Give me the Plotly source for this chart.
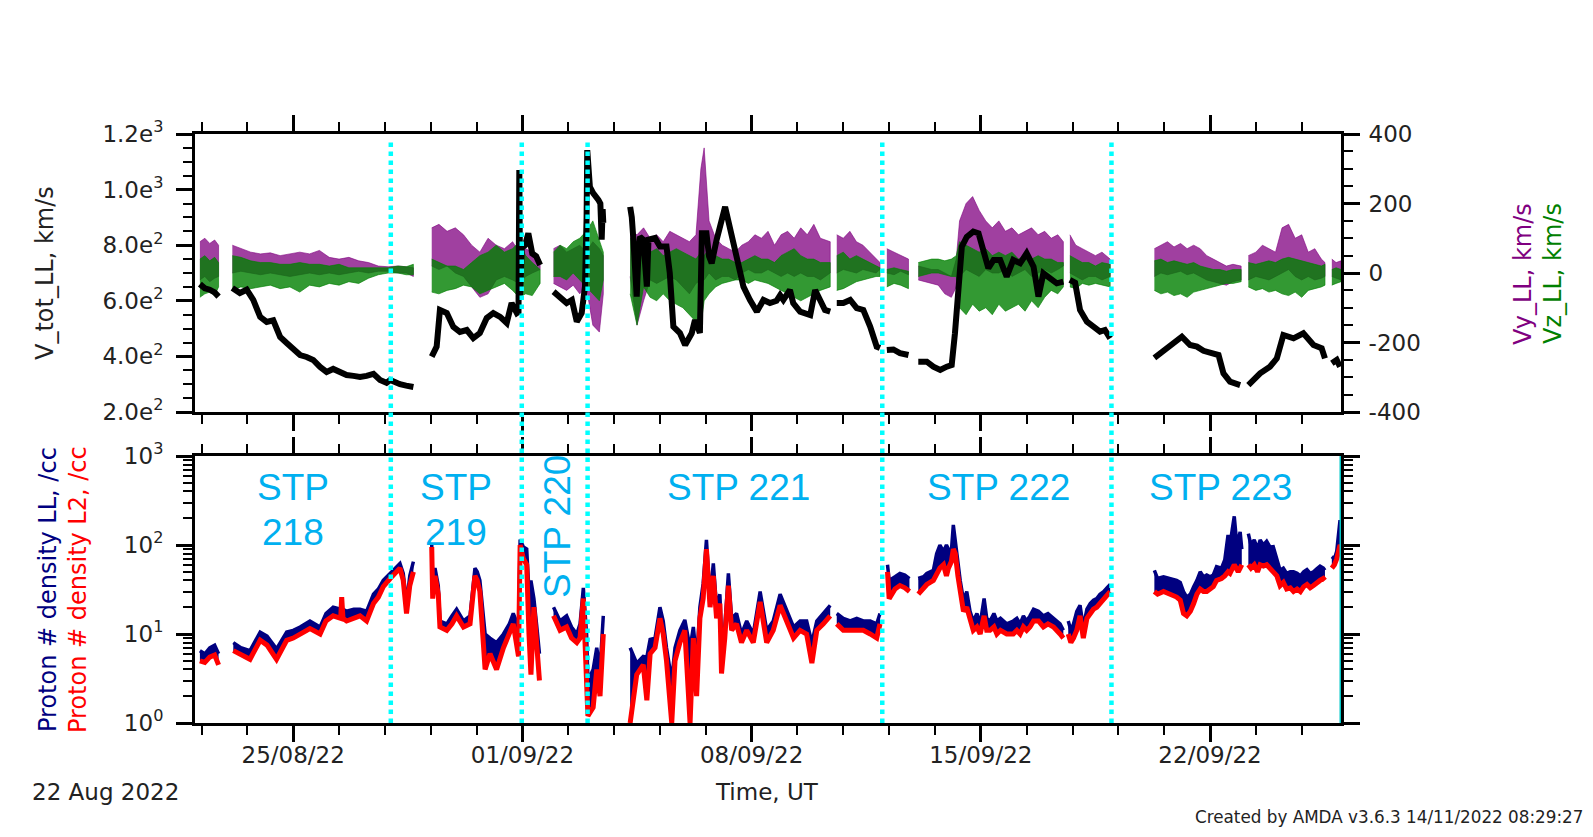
import pandas as pd
import plotly.graph_objects as go

START = pd.Timestamp("2022-08-22")
END = pd.Timestamp("2022-09-26")

# ---------------- data (days since 22 Aug 2022; None = data gap) ----------------
vtot_days = [0.15, 0.3, 0.45, 0.6, 0.72, None,
             1.14, 1.37, 1.58, 1.78, 1.99, 2.19, 2.39, 2.6, 2.8, 3.0, 3.21, 3.41, 3.61, 3.82, 4.02,
             4.22, 4.43, 4.63, 4.84, 5.04, 5.24, 5.45, 5.65, 5.85, 5.96, 6.06, 6.26, 6.45, 6.67, None,
             7.23, 7.38, 7.48, 7.69, 7.89, 8.09, 8.3, 8.5, 8.7, 8.91, 9.11, 9.32, 9.52, 9.67, 9.83,
             9.88, 9.905, 9.93, 9.98, 10.08, 10.18, 10.3, 10.42, 10.54, None,
             10.95, 11.15, 11.35, 11.51, 11.66, 11.81, 11.91, 11.96, 11.98, 12.06, 12.16, 12.32, 12.38,
             12.42, 12.45, 12.47, None,
             13.29, 13.34, 13.39, 13.45, 13.49, 13.54, 13.59, 13.69, 13.75, 13.8, 13.85, 14.05, 14.2,
             14.4, 14.5, 14.61, 14.81, 14.97, 15.17, 15.27, 15.42, 15.46, 15.48, 15.62, 15.7, 15.78,
             15.93, 16.19, 16.34, 16.55, 16.75, 16.95, 17.16, 17.36, 17.56, 17.76, 17.87, 17.97, 18.17,
             18.27, 18.48, 18.79, 18.94, 19.09, 19.24, 19.4, None,
             19.6, 19.8, 20.01, 20.21, 20.41, 20.62, 20.82, 20.92, None,
             21.13, 21.33, 21.53, 21.79, None,
             22.09, 22.35, 22.55, 22.76, 22.96, 23.11, 23.21, 23.31, 23.42, 23.57, 23.77, 23.93, 24.08,
             24.23, 24.39, 24.59, 24.79, 24.99, 25.2, 25.4, 25.61, 25.76, 25.91, 26.11, 26.32, 26.52, None,
             26.72, 26.88, 27.03, 27.24, 27.44, 27.64, 27.79, 27.95, None,
             29.3, 29.48, 29.68, 29.88, 30.14, 30.39, 30.6, 30.8, 31.0, 31.26, 31.41, 31.61, 31.92, None,
             32.17, 32.53, 32.83, 33.04, 33.24, 33.55, 33.85, 34.16, 34.41, 34.51, None,
             34.72, 34.87, 34.97]
vtot = [660, 645, 640, 630, 615, None,
        646, 628, 640, 603, 542, 524, 530, 470, 448, 430, 405, 398, 387, 362, 344,
        355, 344, 333, 330, 326, 330, 337, 315, 305, 315, 308, 300, 295, 290, None,
        399, 435, 567, 556, 506, 488, 495, 466, 484, 538, 556, 542, 520, 592, 556,
        560, 1070, 620, 790, 800, 843, 770, 760, 729, None,
        633, 615, 592, 603, 525, 556, 651, 900, 1142, 1010, 987, 963, 950,
        820, 930, 880, None,
        938, 900, 819, 700, 615, 760, 830, 820, 700, 651, 820, 826, 795,
        795, 700, 507, 484, 441, 483, 531, 484, 700, 843, 843, 760, 735,
        819, 938, 866, 747, 651, 603, 561, 603, 592, 600, 620, 603, 639,
        592, 561, 549, 639, 603, 567, 561, None,
        592, 592, 603, 574, 567, 507, 435, 430, None,
        423, 425, 412, 405, None,
        381, 381, 363, 351, 363, 369, 483, 627, 795, 830, 849, 843, 783,
        717, 747, 747, 687, 747, 735, 771, 723, 615, 699, 681, 663, 669, None,
        675, 665, 567, 525, 507, 489, 495, 465, None,
        395, 411, 425, 447, 471, 441, 435, 420, 411, 405, 339, 309, 297, None,
        297, 339, 363, 393, 477, 465, 483, 441, 429, 393, None,
        375, 387, 363]

vel_days = [0.15, 0.3, 0.45, 0.6, 0.72, None,
            1.14, 1.4, 1.7, 2.0, 2.3, 2.6, 2.9, 3.2, 3.5, 3.8, 4.1, 4.4, 4.7, 5.0, 5.3, 5.6, 5.9, 6.2, 6.45, 6.67, None,
            7.23, 7.45, 7.7, 7.95, 8.2, 8.45, 8.7, 8.95, 9.2, 9.45, 9.7, 9.9, 10.1, 10.3, 10.54, None,
            10.95, 11.15, 11.35, 11.55, 11.75, 11.95, 12.15, 12.35, 12.47, None,
            13.29, 13.5, 13.7, 13.9, 14.1, 14.3, 14.5, 14.7, 14.9, 15.1, 15.3, 15.45, 15.55, 15.7, 15.9, 16.1,
            16.3, 16.5, 16.7, 16.9, 17.1, 17.3, 17.5, 17.7, 17.9, 18.1, 18.3, 18.5, 18.7, 18.9, 19.1, 19.4, None,
            19.6, 19.8, 20.0, 20.2, 20.4, 20.6, 20.8, 20.92, None,
            21.13, 21.35, 21.55, 21.79, None,
            22.09, 22.3, 22.5, 22.7, 22.9, 23.1, 23.25, 23.35, 23.55, 23.75, 23.95, 24.15, 24.35, 24.55, 24.75,
            24.95, 25.15, 25.35, 25.55, 25.75, 25.95, 26.15, 26.35, 26.52, None,
            26.72, 26.9, 27.1, 27.3, 27.5, 27.7, 27.95, None,
            29.3, 29.5, 29.7, 29.9, 30.1, 30.3, 30.5, 30.7, 30.9, 31.1, 31.3, 31.5, 31.7, 31.95, None,
            32.17, 32.4, 32.6, 32.8, 33.0, 33.2, 33.4, 33.6, 33.8, 34.0, 34.2, 34.4, 34.51, None,
            34.72, 34.85, 35.0]
vy_hi = [90, 100, 85, 95, 80, None,
         80, 70, 60, 55, 58, 50, 55, 60, 55, 65, 45, 40, 45, 35, 30, 20, 18, 20, 18, 15, None,
         130, 140, 120, 130, 110, 80, 60, 100, 80, 70, 90, 60, 70, 60, 40, None,
         70, 80, 60, 70, 80, 60, 90, 70, 50, None,
         120, 110, 130, 100, 110, 90, 120, 110, 100, 90, 110, 300, 360, 150, 100, 80,
         70, 60, 80, 90, 110, 100, 120, 80, 110, 120, 100, 130, 110, 140, 100, 90, None,
         110, 100, 120, 90, 80, 60, 40, 30, None,
         70, 60, 50, 40, None,
         20, 15, 10, 10, 0, -10, 40, 150, 200, 220, 180, 150, 130, 150, 120,
         130, 110, 120, 130, 110, 120, 100, 110, 90, None,
         110, 80, 70, 60, 50, 60, 40, None,
         70, 80, 90, 75, 85, 70, 80, 70, 50, 40, 30, 20, 25, 20, None,
         50, 60, 80, 70, 60, 130, 140, 100, 110, 60, 70, 40, 30, None,
         40, 30, 35]
vy_lo = [-20, -10, -25, -15, -10, None,
         0, 5, 0, -5, 0, -5, -10, -5, 0, -5, 0, -5, 0, 5, 0, 5, 5, 0, 0, -10, None,
         20, 10, 20, 0, -10, -40, -70, -60, -20, -10, -20, -30, -10, 0, 10, None,
         -30, -40, -50, -35, -60, -40, -150, -170, -60, None,
         -10, -150, -80, -20, -30, -20, -10, -20, -40, -60, -30, -20, -20, 0, -20, -10,
         -10, -20, 0, 10, 0, 0, 10, 0, -10, 0, -10, 0, -10, -10, -20, 0, None,
         0, 10, 5, 0, 10, 5, 0, 10, None,
         0, -5, 5, -5, None,
         -20, -25, -30, -35, -60, -70, -40, -10, 10, 0, -10, 10, 0, 0, 10,
         -10, 0, 10, -10, 0, 10, 0, 10, 20, None,
         0, -10, -20, -10, -10, -20, -10, None,
         -10, 0, -5, 0, 5, -5, 0, -10, -20, -25, -30, -35, -25, -20, None,
         -20, -10, -15, -20, -10, 0, 10, -10, -20, -10, -20, -15, -10, None,
         -10, -15, -20]
vz_hi = [40, 50, 35, 45, 30, None,
         50, 45, 35, 30, 30, 25, 25, 30, 25, 25, 20, 25, 15, 15, 15, 15, 15, 20, 18, 25, None,
         40, 30, 20, 20, 10, 30, 50, 60, 80, 60, 70, 90, 50, 30, 10, None,
         60, 80, 70, 90, 100, 120, 150, 90, 60, None,
         100, 90, 80, 60, 70, 50, 60, 70, 60, 50, 40, 60, 50, 70, 50, 40,
         40, 30, 30, 40, 50, 40, 40, 30, 50, 60, 70, 50, 40, 40, 30, 30, None,
         50, 60, 40, 50, 40, 30, 20, 15, None,
         10, 15, 10, 5, None,
         30, 35, 40, 40, 35, 40, 50, 90, 80, 70, 60, 70, 50, 60, 50,
         60, 40, 50, 40, 50, 40, 40, 30, 30, None,
         50, 40, 30, 30, 20, 30, 25, None,
         35, 40, 30, 35, 30, 25, 30, 20, 15, 10, 10, 5, 10, 10, None,
         30, 25, 30, 35, 30, 40, 45, 40, 35, 30, 25, 20, 25, None,
         10, 15, 10]
vz_lo = [-70, -60, -55, -65, -40, None,
         -50, -40, -45, -40, -35, -45, -40, -55, -35, -40, -30, -35, -25, -30, -15, -5, 0, 0, -5, -5, None,
         -55, -60, -50, -45, -35, -40, -60, -50, -40, -30, -50, -70, -60, -65, -30, None,
         -10, -10, -20, 0, -20, -40, -60, -80, -20, None,
         -60, -150, -40, -70, -80, -60, -80, -90, -100, -120, -140, -150, -80, -60, -40, -30,
         -25, -20, -20, -30, -20, -25, -30, -40, -50, -60, -70, -80, -70, -60, -50, -40, None,
         -50, -45, -35, -25, -20, -15, -10, -10, None,
         -40, -30, -35, -45, None,
         -10, -5, 0, 0, -5, -10, -10, -100, -120, -90, -110, -100, -120, -90, -110,
         -100, -90, -110, -80, -100, -70, -50, -60, -40, None,
         -40, -45, -30, -35, -30, -35, -40, None,
         -50, -60, -55, -65, -60, -70, -55, -50, -45, -40, -35, -30, -30, -25, None,
         -40, -50, -45, -55, -50, -60, -65, -55, -70, -50, -45, -40, -35, None,
         -35, -30, -25]

dens_days = [0.15, 0.3, 0.45, 0.6, 0.72, None,
             1.17, 1.4, 1.68, 1.99, 2.2, 2.49, 2.8, 3.0, 3.21, 3.51, 3.82, 4.0, 4.22, 4.45, 4.48, 4.52,
             4.63, 4.85, 5.04, 5.24, 5.45, 5.6, 5.75, 5.96, 6.16, 6.26, 6.36, 6.46, 6.56, 6.67, None,
             7.23, 7.26, 7.33, 7.43, 7.48, 7.69, 7.85, 7.99, 8.2, 8.4, 8.55, 8.62, 8.7, 8.86, 9.01, 9.21,
             9.42, 9.6, 9.72, 9.88, 9.93, 10.03, 10.13, 10.2, 10.26, 10.35, 10.44, 10.52, None,
             10.95, 11.15, 11.35, 11.5, 11.66, 11.76, 11.86, 11.96, 12.0, 12.16, 12.27, 12.37, 12.47, None,
             13.29, 13.49, 13.69, 13.8, 13.9, 14.05, 14.2, 14.3, 14.4, 14.56, 14.66, 14.81, 14.96, 15.12,
             15.22, 15.32, 15.42, 15.52, 15.62, 15.73, 15.83, 15.93, 16.03, 16.08, 16.18, 16.29, 16.39,
             16.54, 16.69, 16.85, 17.05, 17.26, 17.46, 17.66, 17.87, 18.07, 18.28, 18.48, 18.68, 18.84,
             18.99, 19.19, 19.4, None,
             19.6, 19.8, 20.01, 20.21, 20.41, 20.62, 20.82, 20.92, None,
             21.15, 21.2, 21.38, 21.53, 21.68, 21.82, None,
             22.09, 22.25, 22.35, 22.55, 22.65, 22.75, 22.86, 22.95, 23.01, 23.1, 23.16, 23.22, 23.3,
             23.37, 23.47, 23.57, 23.67, 23.77, 23.88, 23.98, 24.1, 24.18, 24.28, 24.4, 24.49, 24.6,
             24.79, 24.99, 25.1, 25.2, 25.3, 25.4, 25.5, 25.61, 25.76, 25.91, 26.05, 26.22, 26.42, 26.52, None,
             26.67, 26.75, 26.83, 26.93, 27.03, 27.13, 27.24, 27.34, 27.44, 27.54, 27.64, 27.75, 27.85, 27.95, None,
             29.3, 29.4, 29.58, 29.78, 29.98, 30.09, 30.19, 30.29, 30.4, 30.5, 30.6, 30.7, 30.8, 30.9,
             31.0, 31.1, 31.2, 31.35, 31.45, 31.55, 31.61, 31.68, 31.74, 31.8, 31.86, 31.92, 31.97, None,
             32.17, 32.25, 32.35, 32.45, 32.53, 32.63, 32.73, 32.83, 32.93, 33.04, 33.14, 33.24, 33.34,
             33.45, 33.55, 33.66, 33.76, 33.86, 33.96, 34.06, 34.16, 34.26, 34.36, 34.46, 34.51, None,
             34.72, 34.8, 34.87, 34.92, 34.97, 35.0]
n_ll = [6.5, 6.0, 7.0, 7.5, 6.0, None,
        8.0, 7.0, 6.5, 10.5, 9.5, 6.8, 10.5, 11, 12, 14, 12, 17, 20, 19, 20, 19,
        18, 19, 19, 18, 28, 32, 40, 48, 58, 62, 48, 22, 45, 65, None,
        100, 40, 55, 35, 14, 13, 16, 19, 14, 16, 55, 50, 40, 10, 9, 8,
        10, 13, 17, 12, 115, 95, 90, 30, 40, 25, 12, 6, None,
        20, 14, 16, 12, 10, 13, 33, 10, 3, 4, 7, 4, 16, None,
        7, 4.7, 5.6, 5.5, 8.7, 9, 20, 14, 7, 3, 7, 11, 14.4, 7,
        12, 5, 20, 37, 114, 25, 62, 20, 28, 10, 12, 48, 15,
        17, 10, 14, 10, 30, 11, 14, 28, 19, 12, 14, 14, 8,
        14, 17, 21, None,
        17, 15, 14, 15, 14, 14, 13, 17, None,
        60, 40, 44, 48, 46, 42, None,
        42, 44, 48, 52, 80, 100, 85, 100, 90, 85, 168, 110, 60,
        40, 24, 30, 18, 14, 17, 13, 25, 15, 14, 17, 14, 15,
        13, 14, 15, 13, 16, 14, 16, 19, 18, 16, 17, 15, 13, 11, None,
        14, 11, 13, 18, 21, 12, 19, 22, 24, 25, 28, 30, 33, 36, None,
        52, 42, 44, 42, 40, 38, 30, 26, 28, 34, 40, 50, 44, 46,
        44, 46, 57, 55, 68, 130, 100, 150, 210, 120, 114, 140, 90, None,
        134, 100, 114, 90, 114, 100, 110, 95, 96, 70, 52, 55, 48,
        50, 50, 48, 45, 50, 53, 48, 50, 54, 58, 55, 52, None,
        74, 70, 85, 120, 190, 150]
n_l2 = [5.0, 4.8, 5.5, 5.8, 4.5, None,
        6.5, 5.8, 5.2, 8.5, 7.5, 5.2, 8.5, 9, 10, 11.5, 10, 14, 16, 15, 26, 15,
        14, 15, 16, 14, 22, 26, 34, 42, 52, 55, 40, 17, 35, 50, None,
        95, 25, 45, 28, 12, 11, 13, 16, 12, 13, 45, 40, 30, 4, 6, 4,
        7, 10, 13, 5.6, 100, 70, 60, 10, 3.5, 20, 8, 3, None,
        16, 11, 12, 9, 8, 9, 25, 3, 1.2, 1.5, 4, 2, 10, None,
        1, 3.5, 4.5, 1.8, 6, 7, 15, 10, 5, 1, 5, 8, 11, 1,
        9, 2, 15, 25, 90, 20, 45, 15, 22, 3.6, 9, 35, 11,
        13, 8, 11, 8, 23, 8, 11, 21, 14, 9, 11, 10, 4.7,
        11, 13, 16, None,
        13, 11, 11, 11, 11, 10, 9, 13, None,
        50, 25, 32, 35, 33, 30, None,
        28, 33, 36, 40, 48, 55, 60, 45, 55, 65, 90, 80, 45,
        30, 18, 20, 14, 11, 12, 10, 16, 11, 11, 12, 10, 11,
        10, 10, 11, 10, 12, 11, 12, 14, 14, 12, 13, 12, 10, 9, None,
        10, 8, 9, 11, 16, 9, 15, 17, 19, 20, 22, 25, 27, 30, None,
        30, 28, 30, 28, 26, 24, 17, 16, 18, 22, 28, 32, 30, 30,
        32, 34, 40, 42, 45, 50, 48, 55, 60, 55, 50, 55, 60, None,
        60, 55, 60, 50, 60, 58, 60, 55, 50, 45, 35, 38, 32,
        33, 30, 32, 30, 34, 36, 33, 35, 38, 40, 42, 40, None,
        55, 60, 70, 85, 100, 95]

boundary_days = [5.98, 9.98, 11.99, 20.99, 27.99]

vtot_tickvals = [200, 400, 600, 800, 1000, 1200]
vtot_ticktext = ["2.0e<sup>2</sup>", "4.0e<sup>2</sup>", "6.0e<sup>2</sup>",
                 "8.0e<sup>2</sup>", "1.0e<sup>3</sup>", "1.2e<sup>3</sup>"]
vyz_tickvals = [-400, -200, 0, 200, 400]
vyz_ticktext = ["-400", "-200", "0", "200", "400"]
dens_tickvals = [1, 10, 100, 1000]
dens_ticktext = ["10<sup>0</sup>", "10<sup>1</sup>", "10<sup>2</sup>", "10<sup>3</sup>"]

stp_labels = ["STP<br>218", "STP<br>219", "STP 220", "STP 221", "STP 222", "STP 223"]


# ---------------- helpers ----------------
def to_dates(days):
    return [START + pd.Timedelta(days=d) if d is not None else None for d in days]


def split_segments(days, *cols):
    segs, cur = [], []
    for i, d in enumerate(days):
        if d is None:
            if cur:
                segs.append(cur)
            cur = []
        else:
            cur.append((d,) + tuple(c[i] for c in cols))
    if cur:
        segs.append(cur)
    return segs


def band_traces(days, hi, lo, color, xaxis, yaxis, lw=0.8):
    out = []
    for seg in split_segments(days, hi, lo):
        d = [s[0] for s in seg]
        h = [s[1] for s in seg]
        l = [s[2] for s in seg]
        xs = to_dates(d) + to_dates(d[::-1])
        ys = h + l[::-1]
        out.append(go.Scatter(x=xs, y=ys, mode="lines", fill="toself", fillcolor=color,
                              line=dict(width=lw, color=color), xaxis=xaxis, yaxis=yaxis,
                              hoverinfo="skip", showlegend=False))
    return out


FONT = "DejaVu Sans"
TXT = "#222222"
PURPLE = "rgb(128,0,128)"
GREEN = "rgb(0,128,0)"
NAVY = "rgb(0,0,128)"
RED = "rgb(255,0,0)"
CYAN_LBL = "rgb(0,176,240)"

fig = go.Figure()

# top panel: Vy / Vz bands on y2 (right axis), V_tot on overlaying y3 (left axis)
for tr in band_traces(vel_days, vy_hi, vy_lo, "rgba(128,0,128,0.75)", "x2", "y2"):
    fig.add_trace(tr)
for tr in band_traces(vel_days, vz_hi, vz_lo, "rgba(0,128,0,0.8)", "x2", "y2"):
    fig.add_trace(tr)
fig.add_trace(go.Scatter(x=to_dates(vtot_days), y=vtot, mode="lines",
                         line=dict(color="black", width=6), xaxis="x2", yaxis="y3",
                         connectgaps=False, showlegend=False, hoverinfo="skip"))

# bottom panel: densities (navy band between LL and L2, red L2 line on top)
for tr in band_traces(dens_days, n_ll, n_l2, NAVY, "x", "y", lw=0):
    fig.add_trace(tr)
fig.add_trace(go.Scatter(x=to_dates(dens_days), y=n_ll, mode="lines",
                         line=dict(color=NAVY, width=3.5), xaxis="x", yaxis="y",
                         connectgaps=False, showlegend=False, hoverinfo="skip"))
fig.add_trace(go.Scatter(x=to_dates(dens_days), y=n_l2, mode="lines",
                         line=dict(color=RED, width=5), xaxis="x", yaxis="y",
                         connectgaps=False, showlegend=False, hoverinfo="skip"))

DAY_MS = 86400000
tickfont = dict(family=FONT, size=23, color=TXT)
xcommon = dict(type="date", range=[START, END], tickformat="%d/%m/%y",
               tick0="2022-08-25", dtick=7 * DAY_MS, ticks="outside", ticklen=16,
               tickwidth=2.5, tickcolor="black", showline=True, linewidth=3,
               linecolor="black", mirror="ticks", showgrid=False, zeroline=False,
               minor=dict(tick0="2022-08-25", dtick=1.4 * DAY_MS, ticks="outside",
                          ticklen=9, tickwidth=2, tickcolor="black", showgrid=False),
               tickfont=tickfont)

TOP_DOM = [311 / 589, 1.0]
BOT_DOM = [0.0, 267 / 589]

# the page body has an 8 px margin, so the figure is 16 px smaller than the window
fig.update_layout(
    width=1577, height=821,
    margin=dict(l=187, r=244, t=126, b=106),
    paper_bgcolor="white", plot_bgcolor="white",
    showlegend=False, hovermode=False,
    font=dict(family=FONT, color=TXT),
    xaxis=dict(anchor="y", ticklabelstandoff=-7, **xcommon),
    xaxis2=dict(anchor="y2", matches="x", showticklabels=False, **xcommon),
    yaxis=dict(domain=BOT_DOM, type="log", range=[0, 3], tickvals=dens_tickvals,
               ticktext=dens_ticktext, ticks="outside", ticklen=16, tickwidth=2.5,
               tickcolor="black", showline=True, linewidth=3, linecolor="black",
               mirror="ticks", showgrid=False, zeroline=False, tickfont=tickfont,
               ticklabelstandoff=8,
               minor=dict(dtick="D1", ticks="outside", ticklen=9, tickwidth=2,
                          tickcolor="black", showgrid=False)),
    yaxis2=dict(domain=TOP_DOM, anchor="x2", side="right", range=[-400, 400],
                tickvals=vyz_tickvals, ticktext=vyz_ticktext, ticks="outside", ticklen=16,
                tickwidth=2.5, tickcolor="black", showline=True, linewidth=3,
                linecolor="black", showgrid=False, zeroline=False, tickfont=tickfont,
                ticklabelstandoff=4,
                minor=dict(dtick=50, tick0=0, ticks="outside", ticklen=9, tickwidth=2,
                           tickcolor="black", showgrid=False)),
    yaxis3=dict(overlaying="y2", anchor="x2", side="left", range=[200, 1200],
                tickvals=vtot_tickvals, ticktext=vtot_ticktext, ticks="outside",
                ticklen=16, tickwidth=2.5, tickcolor="black", showline=True, linewidth=3,
                linecolor="black", showgrid=False, zeroline=False, tickfont=tickfont,
                ticklabelstandoff=8,
                minor=dict(dtick=50, tick0=0, ticks="outside", ticklen=9, tickwidth=2,
                           tickcolor="black", showgrid=False)),
)

# STP boundaries
for d in boundary_days:
    t = START + pd.Timedelta(days=d)
    fig.add_shape(type="line", xref="x", yref="paper", x0=t, x1=t, y0=0, y1=0.9898,
                  line=dict(color="#00FFFF", width=4.5, dash="dot"), layer="above")
fig.add_shape(type="line", xref="x", yref="paper", x0=END, x1=END, y0=0, y1=BOT_DOM[1],
              line=dict(color="#00C8C8", width=3), layer="above")


# positions given in window pixels (plot area spans x 195-1341, y 134-723)
def px2x(px):
    return (px - 195) / 1146


def px2y(py):
    return (723 - py) / 589


ann = []
def add_text(text, px, py, size, color, angle=0, xanchor="center", family=FONT):
    ann.append(dict(text=text, x=px2x(px), y=px2y(py), xref="paper", yref="paper",
                    showarrow=False, textangle=angle, xanchor=xanchor, yanchor="middle",
                    font=dict(family=family, size=size, color=color)))

add_text("V_tot_LL, km/s", 45, 273, 24, TXT, -90)
add_text("Proton # density LL, /cc", 48, 590, 24, NAVY, -90)
add_text("Proton # density L2, /cc", 78, 590, 24, RED, -90)
add_text("Vy_LL, km/s", 1523, 274, 24, PURPLE, -90)
add_text("Vz_LL, km/s", 1553, 274, 24, GREEN, -90)
add_text("Time, UT", 767, 792, 23, TXT)
add_text("22 Aug 2022", 30, 792, 23, TXT, xanchor="left")
add_text("Created by AMDA v3.6.3 14/11/2022 08:29:27", 1585, 817, 16.8, TXT, xanchor="right")

STP_FONT = "Liberation Sans"
stp_pos = [(293, None), (456, None), (557, 527), (738, 487), (998, 487), (1220, 487)]
for lbl, (px, py) in zip(stp_labels, stp_pos):
    if "<br>" in lbl:
        a, b = lbl.split("<br>")
        add_text(a, px, 487, 37, CYAN_LBL, family=STP_FONT)
        add_text(b, px, 532, 37, CYAN_LBL, family=STP_FONT)
    elif px == 557:
        add_text(lbl, px, py, 37, CYAN_LBL, angle=-90, family=STP_FONT)
    else:
        add_text(lbl, px, py, 37, CYAN_LBL, family=STP_FONT)

fig.update_layout(annotations=ann)

fig.write_html("out.html")
